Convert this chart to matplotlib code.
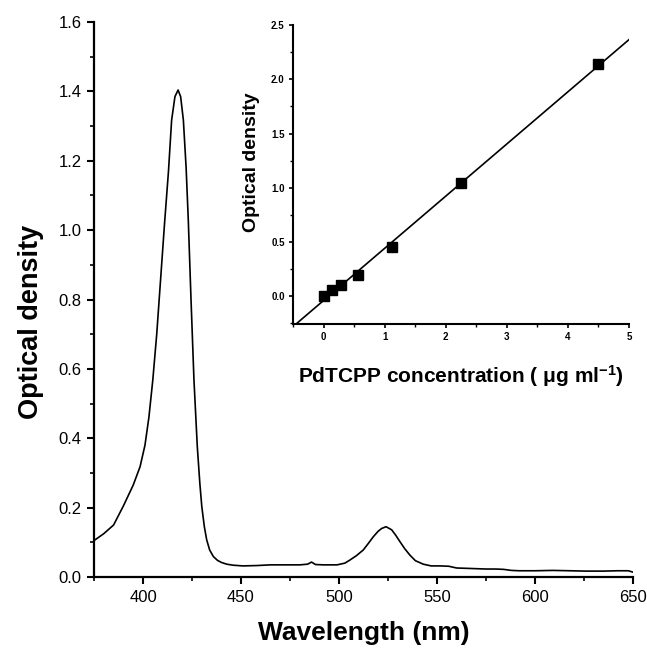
import numpy as np
import matplotlib
matplotlib.use("Agg")
import matplotlib.pyplot as plt
from matplotlib.ticker import MultipleLocator

plt.rcParams['font.family'] = ['Liberation Sans', 'DejaVu Sans']
plt.rcParams['mathtext.fontset'] = 'custom'
plt.rcParams['mathtext.rm'] = 'Liberation Sans:bold'
plt.rcParams['mathtext.it'] = 'Liberation Sans:bold'
plt.rcParams['mathtext.bf'] = 'Liberation Sans:bold'

# ---- main spectrum data ----
wavelength = [375, 380, 385, 390, 395, 398.5, 401, 403, 405, 407, 409, 411, 413,
              414.6, 416.3, 417.9, 419.2, 420.6, 422, 423.1, 424.5, 426, 427.7,
              429, 430, 431.3, 432.5, 434, 435.9, 438, 440, 442.7, 446, 451, 458,
              465, 472, 480, 484, 486, 488, 492, 499, 503, 505.6, 509, 512.4, 515,
              517.5, 520, 521.8, 524, 526.9, 529, 531.1, 533.5, 536.2, 539, 543,
              547, 551.5, 556, 560, 565, 570, 575, 580, 584, 588, 592, 600, 609,
              618, 626, 635, 642, 647.6, 650]
optical_density = [0.105, 0.125, 0.150, 0.205, 0.265, 0.318, 0.38, 0.46, 0.568,
                   0.70, 0.86, 1.02, 1.17, 1.317, 1.385, 1.404, 1.385, 1.317, 1.18,
                   1.03, 0.80, 0.568, 0.376, 0.27, 0.203, 0.145, 0.107, 0.078,
                   0.059, 0.048, 0.042, 0.037, 0.034, 0.032, 0.033, 0.035, 0.035,
                   0.035, 0.037, 0.043, 0.036, 0.035, 0.035, 0.040, 0.049, 0.062,
                   0.078, 0.097, 0.116, 0.132, 0.140, 0.145, 0.136, 0.120, 0.102,
                   0.082, 0.063, 0.047, 0.037, 0.032, 0.032, 0.031, 0.026, 0.025,
                   0.024, 0.023, 0.023, 0.022, 0.019, 0.018, 0.018, 0.019, 0.018,
                   0.017, 0.017, 0.018, 0.018, 0.014]

# ---- inset calibration data ----
concentration = [0.0, 0.14, 0.28, 0.5625, 1.125, 2.25, 4.5]
od_inset = [0.0, 0.055, 0.10, 0.196, 0.455, 1.045, 2.14]

fig = plt.figure(figsize=(6.47, 6.5), dpi=100)

ax = fig.add_axes([0.1453, 0.1123, 0.8330, 0.8538])
ax.plot(wavelength, optical_density, color='black', lw=1.2)
ax.set_xlim(375, 650)
ax.set_ylim(0, 1.6)
ax.xaxis.set_major_locator(MultipleLocator(50))
ax.xaxis.set_minor_locator(MultipleLocator(25))
ax.yaxis.set_major_locator(MultipleLocator(0.2))
ax.yaxis.set_minor_locator(MultipleLocator(0.1))
ax.yaxis.set_major_formatter(plt.FuncFormatter(lambda v, p: f"{v:.1f}"))
for s in ['top', 'right']:
    ax.spines[s].set_visible(False)
for s in ['left', 'bottom']:
    ax.spines[s].set_linewidth(1.6)
ax.tick_params(which='major', direction='out', length=5, width=1.5, labelsize=12, pad=4)
ax.tick_params(which='minor', direction='out', length=3, width=1.2)
ax.set_xlabel('Wavelength (nm)', fontsize=19, fontweight='bold')
ax.set_ylabel('Optical density', fontsize=19.5, fontweight='bold')
ax.xaxis.set_label_coords(0.5, -0.079)
ax.yaxis.set_label_coords(-0.093, 0.46)

# ---- inset ----
ins = fig.add_axes([0.4529, 0.5015, 0.5193, 0.4600])
slope, intercept = np.polyfit(concentration, od_inset, 1)
xfit = np.array([-0.5, 5.0])
ins.plot(xfit, slope * xfit + intercept, color='black', lw=1.2)
ins.plot(concentration, od_inset, 's', color='black', ms=6.5)
ins.set_xlim(-0.5, 5)
ins.set_ylim(-0.255, 2.5)
ins.xaxis.set_major_locator(MultipleLocator(1))
ins.xaxis.set_minor_locator(MultipleLocator(0.5))
ins.yaxis.set_major_locator(MultipleLocator(0.5))
ins.yaxis.set_minor_locator(MultipleLocator(0.25))
ins.yaxis.set_major_formatter(plt.FuncFormatter(lambda v, p: f"{v:.1f}"))
ins.xaxis.set_major_formatter(plt.FuncFormatter(lambda v, p: f"{v:.0f}"))
for s in ['top', 'right']:
    ins.spines[s].set_visible(False)
for s in ['left', 'bottom']:
    ins.spines[s].set_linewidth(1.5)
ins.patch.set_alpha(0)
ins.tick_params(which='major', direction='out', length=3, width=1.2, labelsize=7, pad=3)
ins.tick_params(which='minor', direction='out', length=2, width=1.0)
for lab in ins.get_xticklabels() + ins.get_yticklabels():
    lab.set_fontweight('bold')
ins.set_xlabel(r'PdTCPP concentration ( $\mu$g ml$^{-1}$)', fontsize=15, fontweight='bold')
ins.set_ylabel('Optical density', fontsize=14, fontweight='bold')
ins.xaxis.set_label_coords(0.5, -0.13)
ins.yaxis.set_label_coords(-0.098, 0.54)

fig.savefig('out.png', dpi=100)
